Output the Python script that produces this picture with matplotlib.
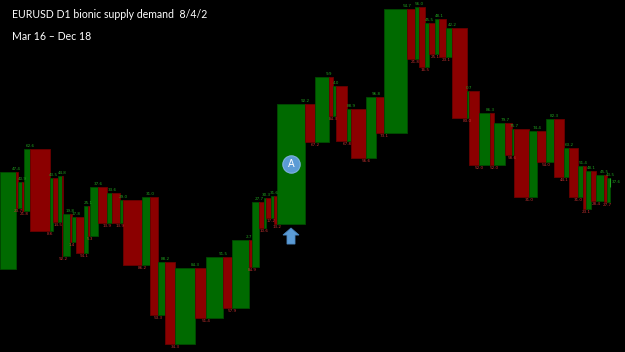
import matplotlib
matplotlib.use("Agg")
import matplotlib.pyplot as plt
from matplotlib.patches import Rectangle, Polygon

# Swing levels of the box chart (price), alternating low / high
levels = [1.0836, 1.1474, 1.1237, 1.1409, 1.1218, 1.1626, 1.1086, 1.1435, 1.1145, 1.1448,
          1.0922, 1.1198, 1.1014, 1.1178, 1.0941, 1.1251, 1.1053, 1.1376, 1.1139, 1.1336,
          1.1139, 1.1290, 1.0862, 1.1310, 1.0533, 1.0882, 1.0343, 1.0843, 1.0514, 1.0915,
          1.0579, 1.1027, 1.0849, 1.1277, 1.1106, 1.1303, 1.1172, 1.1316, 1.1132, 1.1922,
          1.1672, 1.2099, 1.1843, 1.2040, 1.1678, 1.1889, 1.1566, 1.1968, 1.1731, 1.2547,
          1.2218, 1.2560, 1.2165, 1.2455, 1.2251, 1.2481, 1.2231, 1.2422, 1.1830, 1.2007,
          1.1520, 1.1863, 1.1520, 1.1797, 1.1586, 1.1757, 1.1310, 1.1744, 1.1540, 1.1823,
          1.1441, 1.1632, 1.1310, 1.1514, 1.1231, 1.1481, 1.1284, 1.1455, 1.1277, 1.1435]

# Length of every box (chart time units)
durations = [16, 2, 4, 2, 6, 20, 3, 5, 4, 1, 7, 2, 4, 8, 4, 2, 8, 9, 5, 8,
             3, 19, 8, 8, 7, 10, 20, 11, 17, 9, 17, 3, 7, 5, 2, 5, 3, 3, 28, 10,
             14, 4, 3, 11, 4, 15, 10, 8, 23, 8, 4, 6, 4, 6, 4, 7, 6, 15, 2, 10,
             11, 4, 11, 7, 2, 15, 8, 9, 8, 10, 5, 9, 5, 3, 5, 5, 8, 3, 3]

last_price = 1.1376
marked_box = 38   # box with the "A" marker

TITLE = "EURUSD D1 bionic supply demand  8/4/2"
SUBTITLE = "Mar 16 \u2013 Dec 18"

GREEN = "#006a00"
GREEN_EDGE = "#004a00"
RED = "#8b0000"
RED_EDGE = "#6a0000"
BLUE = "#5b9bd5"
LABEL_SIZE = 3.0

W, H, DPI = 625, 352, 100
YMIN, YMAX = 1.0290, 1.2606
fig = plt.figure(figsize=(W / DPI, H / DPI), dpi=DPI, facecolor="black")
ax = fig.add_axes([0, 0, 1, 1])
ax.set_facecolor("black")
ax.set_xlim(0, W)
ax.set_ylim(YMIN, YMAX)
ax.axis("off")
px = (YMAX - YMIN) / H   # price per pixel

x = 0
for i, d in enumerate(durations):
    p0, p1 = levels[i], levels[i + 1]
    up = p1 > p0
    ax.add_patch(Rectangle((x, min(p0, p1)), d, abs(p1 - p0),
                           facecolor=GREEN if up else RED,
                           edgecolor=GREEN_EDGE if up else RED_EDGE, linewidth=0.6))
    # level label at the turning point
    lab = f"{(p1 * 1000) % 100:.1f}"
    if up:
        ax.text(x + d, p1 + 1.0 * px, lab, color="#1fa01f", fontsize=LABEL_SIZE,
                ha="center", va="bottom")
    else:
        ax.text(x + d, p1 - 1.0 * px, lab, color="#c83232", fontsize=LABEL_SIZE,
                ha="center", va="top")
    if i == marked_box:
        cx = x + d / 2
        cy = (p0 + p1) / 2
        ax.plot(cx, cy, "o", markersize=12.5, color=BLUE, markeredgecolor="#7fb2e0",
                markeredgewidth=0.8)
        ax.text(cx, cy, "A", color="white", fontsize=7, ha="center", va="center")
        # up arrow below the box
        top = min(p0, p1) - 4 * px
        arrow = [(cx, top), (cx + 8, top - 7 * px), (cx + 4, top - 7 * px),
                 (cx + 4, top - 16 * px), (cx - 4, top - 16 * px), (cx - 4, top - 7 * px),
                 (cx - 8, top - 7 * px)]
        ax.add_patch(Polygon(arrow, closed=True, facecolor=BLUE, edgecolor="#4a86c0",
                             linewidth=0.6))
    x += d

ax.vlines(x - 0.5, last_price, levels[-1], color="#1fa01f", linewidth=0.8)
ax.text(x + 2, levels[-1] - 4 * px, f"{(last_price * 1000) % 100:.1f}", color="#1fa01f",
        fontsize=LABEL_SIZE, ha="left", va="center")

fig.text(12 / W, 1 - 14 / H, TITLE, color="white", fontsize=7.6, family="Lato",
         ha="left", va="center")
fig.text(12 / W, 1 - 36 / H, SUBTITLE, color="white", fontsize=7.6, family="Lato",
         ha="left", va="center")

fig.savefig("out.png", dpi=DPI, facecolor="black")
